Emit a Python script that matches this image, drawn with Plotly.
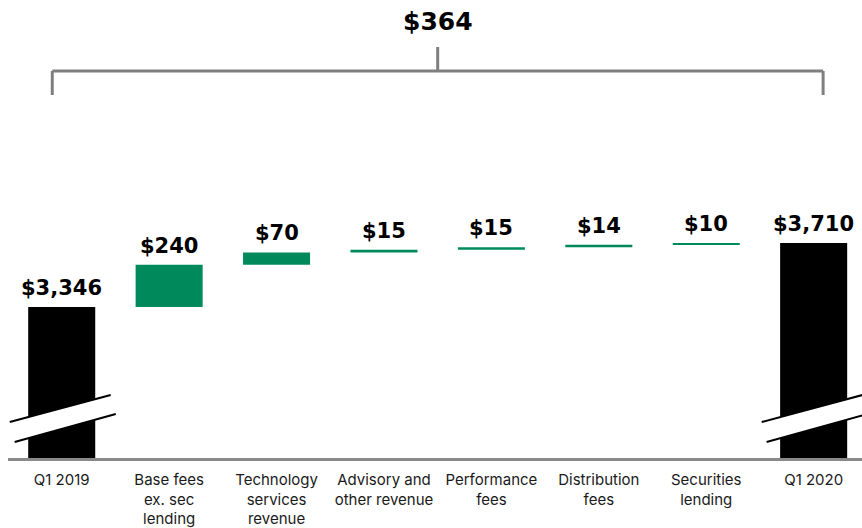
import plotly.graph_objects as go

# ---- data ----
categories = ["Q1 2019", "Base fees<br>ex. sec<br>lending", "Technology<br>services<br>revenue",
              "Advisory and<br>other revenue", "Performance<br>fees", "Distribution<br>fees",
              "Securities<br>lending", "Q1 2020"]
start_value = 3346
increments = [240, 70, 15, 15, 14, 10]
end_value = 3710

# ---- derived ----
n = len(categories)
idx = list(range(n))
bases = []
run = start_value
for v in increments:
    bases.append(run)
    run += v

GREEN = "#008A5C"
GRAY = "#8A8A8A"
BW = 0.624

fig = go.Figure()
fig.add_trace(go.Bar(x=[idx[0], idx[-1]], y=[start_value, end_value], width=BW,
                     marker=dict(color="black", line=dict(width=0)), hoverinfo="skip"))
fig.add_trace(go.Bar(x=idx[1:-1], y=increments, base=bases, width=BW,
                     marker=dict(color=GREEN, line=dict(width=0)), hoverinfo="skip"))

label_font = dict(family="DejaVu Sans", size=21, color="black", weight="bold")
tops = [start_value] + [b + v for b, v in zip(bases, increments)] + [end_value]
vals = [start_value] + increments + [end_value]
for i, (t, v) in enumerate(zip(tops, vals)):
    fig.add_annotation(x=i, y=t, text=f"${v:,}", showarrow=False, yanchor="bottom",
                       yshift=5, font=label_font)

# total change bracket
fig.add_annotation(x=(idx[0] + idx[-1]) / 2, y=0.952, yref="paper", yanchor="middle",
                   text=f"${end_value - start_value:,}", showarrow=False,
                   font=dict(family="DejaVu Sans", size=25, color="black", weight="bold"))
bl, br = idx[0] - 0.088, idx[-1] + 0.088
bline = dict(color="#7F7F7F", width=3)
shapes = [
    dict(type="line", xref="x", yref="paper", x0=bl, x1=br, y0=0.845, y1=0.845, line=bline),
    dict(type="line", xref="x", yref="paper", x0=bl, x1=bl, y0=0.845, y1=0.7926, line=bline),
    dict(type="line", xref="x", yref="paper", x0=br, x1=br, y0=0.845, y1=0.7926, line=bline),
    dict(type="line", xref="x", yref="paper", x0=(bl + br) / 2, x1=(bl + br) / 2, y0=0.845, y1=0.8974, line=bline),
]
# axis break marks
for c in (idx[0], idx[-1]):
    ax0, ay0, ax1, ay1 = c - 0.484, 0.0786, c + 0.456, 0.1376
    bx0, by0, bx1, by1 = c - 0.438, 0.0349, c + 0.503, 0.0961
    shapes.append(dict(type="path", xref="x", yref="paper",
                       path=f"M {ax0},{ay0} L {ax1},{ay1} L {bx1},{by1} L {bx0},{by0} Z",
                       fillcolor="white", line=dict(width=0)))
    shapes.append(dict(type="line", xref="x", yref="paper", x0=ax0, y0=ay0, x1=ax1, y1=ay1,
                       line=dict(color="black", width=2)))
    shapes.append(dict(type="line", xref="x", yref="paper", x0=bx0, y0=by0, x1=bx1, y1=by1,
                       line=dict(color="black", width=2)))

fig.update_layout(
    width=862, height=528, margin=dict(l=8, r=0, t=0, b=70),
    paper_bgcolor="white", plot_bgcolor="white", showlegend=False,
    barmode="overlay", shapes=shapes,
    xaxis=dict(range=[-0.5, 7.45], tickvals=idx, ticktext=categories, showgrid=False,
               zeroline=False, showline=True, linecolor=GRAY, linewidth=3,
               ticks="", ticklabelstandoff=6,
               tickfont=dict(family="Inter", size=15, color="#1a1a1a")),
    yaxis=dict(range=[2487, 5092], visible=False, showgrid=False, zeroline=False),
)
fig.write_html("out.html")
